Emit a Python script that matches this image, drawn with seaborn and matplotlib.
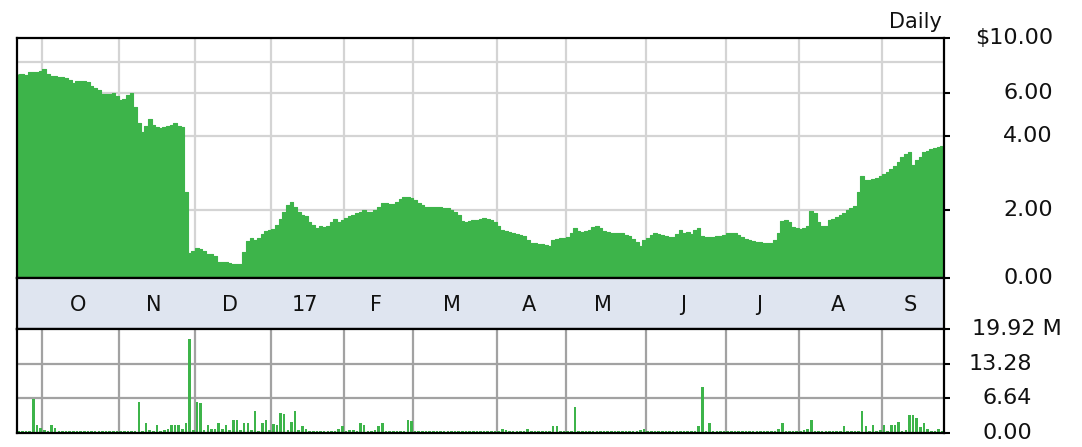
import numpy as np
import pandas as pd
import matplotlib
matplotlib.use("Agg")
import matplotlib.pyplot as plt
from matplotlib.ticker import NullLocator
import seaborn as sns

# ---- daily closing prices ($), one list per calendar month ----
close_sep16 = [7.14, 7.14, 7.10, 7.27, 7.25, 7.27, 7.35]
close_oct16 = [7.48, 7.14, 7.00, 7.00, 6.94, 6.94, 6.87, 6.75, 6.56, 6.68, 6.68,
               6.68, 6.62, 6.38, 6.26, 6.14, 5.92, 5.92, 5.92, 5.97, 5.81]
close_nov16 = [5.59, 5.65, 5.86, 5.97, 5.24, 4.51, 4.14, 4.38, 4.68, 4.42, 4.34,
               4.30, 4.34, 4.38, 4.42, 4.51, 4.38, 4.34, 2.36, 1.33, 1.36]
close_dec16 = [1.40, 1.38, 1.36, 1.32, 1.32, 1.30, 1.225, 1.225, 1.225, 1.21, 1.20,
               1.20, 1.20, 1.34, 1.49, 1.53, 1.51, 1.53, 1.59, 1.64, 1.65]
close_jan17 = [1.67, 1.73, 1.83, 1.96, 2.09, 2.15, 2.05, 1.96, 1.90, 1.885,
               1.78, 1.73, 1.68, 1.72, 1.70, 1.72, 1.78, 1.83, 1.78, 1.82]
close_feb17 = [1.85, 1.885, 1.90, 1.94, 1.96, 1.99, 1.96, 1.96, 1.99, 2.05,
               2.13, 2.13, 2.11, 2.11, 2.15, 2.21, 2.25, 2.25, 2.23]
close_mar17 = [2.19, 2.13, 2.09, 2.05, 2.05, 2.05, 2.05, 2.05, 2.03, 2.03, 1.99, 1.96,
               1.90, 1.80, 1.78, 1.80, 1.82, 1.82, 1.83, 1.85, 1.83, 1.82, 1.78]
close_apr17 = [1.72, 1.65, 1.64, 1.62, 1.61, 1.59, 1.58, 1.56, 1.51, 1.46,
               1.46, 1.45, 1.45, 1.44, 1.42, 1.51, 1.52, 1.53, 1.53]
close_may17 = [1.55, 1.61, 1.68, 1.64, 1.62, 1.64, 1.65, 1.70, 1.72, 1.68, 1.64,
               1.62, 1.61, 1.61, 1.61, 1.61, 1.58, 1.56, 1.52, 1.48, 1.42, 1.51]
close_jun17 = [1.53, 1.58, 1.61, 1.59, 1.58, 1.56, 1.55, 1.55, 1.59, 1.65, 1.61,
               1.62, 1.59, 1.65, 1.68, 1.56, 1.55, 1.55, 1.55, 1.56, 1.56, 1.58]
close_jul17 = [1.61, 1.61, 1.61, 1.58, 1.55, 1.52, 1.51, 1.49, 1.48, 1.48,
               1.46, 1.46, 1.46, 1.51, 1.61, 1.80, 1.82, 1.78, 1.70, 1.68]
close_aug17 = [1.67, 1.68, 1.72, 1.98, 1.94, 1.78, 1.72, 1.72, 1.82, 1.83, 1.87, 1.90,
               1.94, 1.99, 2.03, 2.07, 2.36, 2.74, 2.64, 2.64, 2.67, 2.69, 2.74]
close_sep17 = [2.80, 2.85, 2.93, 3.01, 3.13, 3.28, 3.37, 3.43, 3.04,
               3.19, 3.28, 3.43, 3.47, 3.53, 3.57, 3.60, 3.63]

# ---- daily volume (millions of shares) ----
vol_sep16 = [0.45, 0.45, 0.40, 0.45, 6.6, 1.6, 1.0]
vol_oct16 = [0.6, 0.4, 1.5, 0.9, 0.35, 0.35, 0.40, 0.35, 0.35, 0.40, 0.35,
             0.35, 0.40, 0.35, 0.35, 0.40, 0.35, 0.35, 0.40, 0.35, 0.45]
vol_nov16 = [0.35, 0.40, 0.35, 0.35, 0.40, 5.9, 0.45, 1.85, 0.6, 0.45, 1.5,
             0.35, 0.6, 0.85, 1.5, 1.5, 1.5, 0.85, 1.85, 18.1, 0.5]
vol_dec16 = [5.9, 5.7, 0.5, 1.5, 0.85, 0.85, 1.85, 0.85, 1.5, 0.5, 2.4,
             2.4, 0.5, 1.85, 1.85, 0.5, 4.3, 0.4, 1.9, 2.4, 0.6]
vol_jan17 = [1.7, 1.5, 3.8, 3.6, 0.5, 2.2, 4.3, 0.5, 1.3, 0.85,
             0.35, 0.35, 0.40, 0.35, 0.35, 0.35, 0.40, 0.35, 0.85, 1.4]
vol_feb17 = [0.35, 0.5, 0.5, 0.35, 1.85, 1.5, 0.45, 0.35, 0.5, 1.3,
             1.85, 0.35, 0.35, 0.45, 0.35, 0.35, 0.40, 2.4, 2.3]
vol_mar17 = [0.40, 0.35, 0.35, 0.35, 0.40, 0.35, 0.35, 0.35, 0.40, 0.35, 0.35, 0.35,
             0.40, 0.35, 0.35, 0.35, 0.40, 0.35, 0.35, 0.35, 0.40, 0.35, 0.35]
vol_apr17 = [0.35, 0.85, 0.5, 0.35, 0.35, 0.4, 0.35, 0.35, 0.85, 0.35,
             0.35, 0.4, 0.35, 0.35, 0.4, 1.4, 1.4, 0.35, 0.4]
vol_may17 = [0.35, 0.4, 4.9, 0.35, 0.35, 0.4, 0.35, 0.35, 0.35, 0.4, 0.35,
             0.35, 0.35, 0.4, 0.35, 0.35, 0.35, 0.4, 0.35, 0.35, 0.6, 0.85]
vol_jun17 = [0.4, 0.35, 0.35, 0.4, 0.35, 0.35, 0.4, 0.35, 0.35, 0.4, 0.35,
             0.35, 0.4, 0.35, 1.4, 8.9, 0.4, 1.85, 0.35, 0.4, 0.35, 0.35]
vol_jul17 = [0.35, 0.35, 0.4, 0.35, 0.35, 0.35, 0.4, 0.35, 0.35, 0.35,
             0.4, 0.35, 0.35, 0.35, 0.85, 1.85, 0.4, 0.35, 0.35, 0.35]
vol_aug17 = [0.35, 0.5, 0.85, 2.4, 0.35, 0.35, 0.35, 0.35, 0.35, 0.4, 0.35, 0.35,
             1.3, 0.35, 0.35, 0.4, 0.35, 4.3, 1.4, 0.4, 1.5, 0.35, 0.5]
vol_sep17 = [1.5, 0.4, 1.5, 1.5, 2.2, 0.4, 0.6, 3.4, 3.4,
             2.9, 1.2, 1.85, 0.85, 0.4, 0.4, 0.85, 0.4]

month_labels = ["O", "N", "D", "17", "F", "M", "A", "M", "J", "J", "A", "S"]
price_ticks = [2, 4, 6, 10]
price_tick_labels = ["2.00", "4.00", "6.00", "$10.00"]
vol_ticks = [6.64, 13.28, 19.92]
vol_tick_labels = ["6.64", "13.28", "19.92 M"]

# trading calendar (NYSE holidays in the period)
holidays = ["2016-11-24", "2016-12-26", "2017-01-02", "2017-01-16", "2017-02-20",
            "2017-04-14", "2017-05-29", "2017-07-04", "2017-09-04"]
dates = pd.bdate_range("2016-09-22", "2017-09-26", freq="C", holidays=holidays)

close = np.concatenate([close_sep16, close_oct16, close_nov16, close_dec16, close_jan17,
                        close_feb17, close_mar17, close_apr17, close_may17, close_jun17,
                        close_jul17, close_aug17, close_sep17])
volume = np.concatenate([vol_sep16, vol_oct16, vol_nov16, vol_dec16, vol_jan17,
                         vol_feb17, vol_mar17, vol_apr17, vol_may17, vol_jun17,
                         vol_jul17, vol_aug17, vol_sep17])
df = pd.DataFrame({"date": dates, "close": close, "volume": volume})
df["pos"] = np.arange(len(df))
n = len(df)

# first trading day of each month -> grid boundaries
month_key = df["date"].dt.to_period("M")
starts = df.groupby(month_key)["pos"].min().values
ends = df.groupby(month_key)["pos"].max().values
boundaries = starts[1:] - 0.5
label_pos = [(s + e) / 2 - 0.8 for s, e in zip(starts[1:], ends[1:])]

sns.set_style("white")
plt.rcParams["font.family"] = ["DejaVu Sans"]

GREEN = "#3db44a"
PRICE_GRID = "#d4d4d4"
VOL_GRID = "#a2a2a2"
BAND = "#dfe5f0"
FLOOR = 1.055

fig = plt.figure(figsize=(10.82, 4.47), dpi=100)
W_PX, H_PX = 1082, 447
left, width = 17 / W_PX, 927 / W_PX
ax_p = fig.add_axes([left, 1 - 278 / H_PX, width, 240 / H_PX])
ax_m = fig.add_axes([left, 1 - 329 / H_PX, width, 51 / H_PX])
ax_v = fig.add_axes([left, 1 - 433 / H_PX, width, 104 / H_PX])

def px_to_axes_x(px):
    return (px - 17) / 927

# ---- price panel ----
ax_p.set_yscale("log")
for v in [2, 4, 6, 8]:
    ax_p.axhline(v, color=PRICE_GRID, lw=1.6, zorder=0.5)
for b in boundaries:
    ax_p.axvline(b, color=PRICE_GRID, lw=1.6, zorder=0.5)
xs = np.append(df["pos"].values - 0.5, n - 0.5)
ys = np.append(df["close"].values, df["close"].values[-1])
ax_p.fill_between(xs, ys, 1.0, step="post", color=GREEN, lw=0, zorder=2)
sns.lineplot(data=df, x="pos", y="close", ax=ax_p, color=GREEN, lw=0.8,
             drawstyle="steps-mid", zorder=2.1)
ax_p.set_xlim(-0.5, n - 0.5)
ax_p.set_ylim(FLOOR, 10)
ax_p.set_xticks([])
ax_p.yaxis.set_minor_locator(NullLocator())
ax_p.yaxis.tick_right()
ax_p.set_yticks([FLOOR] + price_ticks)
ax_p.set_yticklabels([])
ax_p.tick_params(axis="y", which="major", direction="out", length=4, width=1.5,
                 color="black", right=True, left=False)
ax_p.set_xlabel("")
ax_p.set_ylabel("")
yt = ax_p.get_yaxis_transform()
for v, lab in zip([FLOOR] + price_ticks, ["0.00"] + price_tick_labels):
    ax_p.text(px_to_axes_x(1053), v, lab, transform=yt, ha="right", va="center",
              fontsize=16, color="#111111", clip_on=False)
ax_p.text(px_to_axes_x(942), (278 - 28) / 240, "Daily", transform=ax_p.transAxes,
          ha="right", va="baseline", fontsize=15, color="#111111")

# ---- month band ----
ax_m.set_facecolor(BAND)
ax_m.set_xlim(-0.5, n - 0.5)
ax_m.set_ylim(0, 1)
ax_m.set_xticks([])
ax_m.set_yticks([])
for x, lab in zip(label_pos, month_labels):
    ax_m.text(x, 0.47, lab, ha="center", va="center", fontsize=15, color="#111111")

# ---- volume panel ----
for v in [6.64, 13.28]:
    ax_v.axhline(v, color=VOL_GRID, lw=1.6, zorder=0.5)
for b in boundaries:
    ax_v.axvline(b, color=VOL_GRID, lw=1.6, zorder=0.5)
sns.barplot(data=df, x="pos", y="volume", native_scale=True, width=0.7,
            color=GREEN, saturation=1, errorbar=None, ax=ax_v, linewidth=0)
for p in ax_v.patches:
    p.set_zorder(2)
ax_v.set_xlim(-0.5, n - 0.5)
ax_v.set_ylim(0, 19.92)
ax_v.set_xticks([])
ax_v.yaxis.tick_right()
ax_v.set_yticks([0] + vol_ticks)
ax_v.set_yticklabels([])
ax_v.tick_params(axis="y", direction="out", length=4, width=1.5, color="black",
                 right=True, left=False)
ax_v.set_xlabel("")
ax_v.set_ylabel("")
vt = ax_v.get_yaxis_transform()
for v, lab in zip([0] + vol_ticks, ["0.00"] + vol_tick_labels):
    if lab.endswith("M"):
        ax_v.text(px_to_axes_x(1062), v, lab, transform=vt, ha="right", va="center",
                  fontsize=16, color="#111111", clip_on=False)
    else:
        ax_v.text(px_to_axes_x(1032), v, lab, transform=vt, ha="right", va="center",
                  fontsize=16, color="#111111", clip_on=False)

for ax in (ax_p, ax_m, ax_v):
    for s in ax.spines.values():
        s.set_visible(True)
        s.set_color("black")
        s.set_linewidth(1.6)

fig.savefig("out.png", dpi=100, facecolor="white")
